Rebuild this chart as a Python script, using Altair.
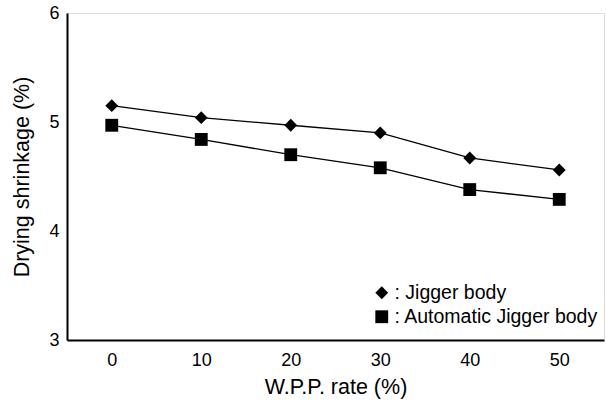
import altair as alt
import pandas as pd

wpp_rate = [0, 10, 20, 30, 40, 50]
jigger = [5.15, 5.04, 4.97, 4.90, 4.67, 4.56]
automatic = [4.97, 4.84, 4.70, 4.58, 4.38, 4.29]
series_names = ["Jigger body", "Automatic Jigger body"]

rows = []
for x, v in zip(wpp_rate, jigger):
    rows.append({"rate": x, "shrink": v, "series": series_names[0]})
for x, v in zip(wpp_rate, automatic):
    rows.append({"rate": x, "shrink": v, "series": series_names[1]})
df = pd.DataFrame(rows)

FONT = "Liberation Sans"

xenc = alt.X("rate:Q", scale=alt.Scale(domain=[-5, 55], nice=False, zero=False),
             axis=alt.Axis(values=wpp_rate, title="W.P.P. rate (%)", grid=False, ticks=False,
                           domainColor="black", domainWidth=2, labelFontSize=18,
                           labelColor="black", labelPadding=11, titleFontSize=21.5,
                           titleFontWeight="normal", titleColor="black", titlePadding=7,
                           labelFont=FONT, titleFont=FONT))
yenc = alt.Y("shrink:Q", scale=alt.Scale(domain=[3, 6], nice=False, zero=False),
             axis=alt.Axis(values=[3, 4, 5, 6], title="Drying shrinkage (%)", grid=False, ticks=False,
                           domainColor="black", domainWidth=2, labelFontSize=18,
                           labelColor="black", labelPadding=8, titleFontSize=21.5,
                           titleFontWeight="normal", titleColor="black", titlePadding=15,
                           labelFont=FONT, titleFont=FONT))

lines = alt.Chart(df).mark_line(color="black", strokeWidth=1.3).encode(
    x=xenc, y=yenc, detail="series:N")

points = alt.Chart(df).mark_point(filled=True, color="black", opacity=1, size=165).encode(
    x=xenc, y=yenc,
    shape=alt.Shape("series:N",
                    scale=alt.Scale(domain=series_names, range=["diamond", "square"]),
                    legend=alt.Legend(title=None, orient="none", legendX=305, legendY=270,
                                      labelExpr="': ' + datum.label", labelFontSize=19.5,
                                      labelFont=FONT, labelColor="black", symbolFillColor="black",
                                      symbolStrokeColor="black", symbolSize=165, rowPadding=3,
                                      symbolOffset=0, labelOffset=3, symbolOpacity=1,
                                      labelLimit=400)),
)

chart = alt.layer(lines, points).properties(
    width=537, height=327,
    autosize=alt.AutoSizeParams(type="none"),
    padding={"left": 67, "top": 13, "right": 2, "bottom": 63},
).configure_view(stroke="black", strokeWidth=1.5).configure(background="white")

chart.save("out.html", embed_options={"renderer": "svg", "actions": False})
